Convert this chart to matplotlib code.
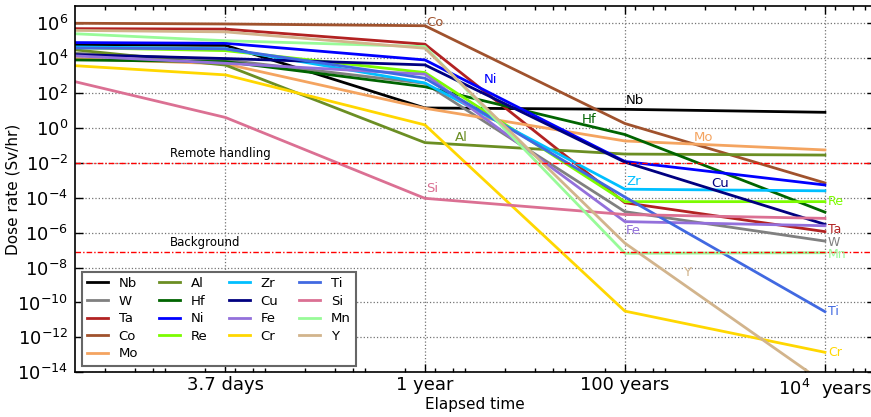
import matplotlib.pyplot as plt
from matplotlib.ticker import FixedLocator, LogLocator, NullLocator, NullFormatter

plt.rcParams['font.family'] = ['DejaVu Sans']
plt.rcParams['axes.unicode_minus'] = False

# cooling times in seconds
yr = 3.156e7
times = [1.0e4, 3.7 * 86400, yr, 100 * yr, 1.0e4 * yr]

# dose rate (Sv/hr) per material at each cooling time
Nb = [5.9e4, 5.4e4, 14.0, 11.7, 7.9]
W = [1.9e4, 7.9e3, 360.0, 1.6e-5, 3.3e-7]
Ta = [4.9e5, 4.6e5, 6.3e4, 5.2e-5, 1.15e-6]
Co = [1.0e6, 9.1e5, 7.2e5, 1.8, 7.1e-4]
Mo = [9.5e3, 4.7e3, 13.5, 0.18, 5.5e-2]
Al = [3.0e4, 4.0e3, 0.145, 3.2e-2, 2.8e-2]
Hf = [7.9e3, 6.3e3, 230.0, 0.42, 1.5e-5]
Ni = [7.8e4, 7.1e4, 7.9e3, 1.2e-2, 5.4e-4]
Re = [4.0e4, 2.7e4, 1.5e3, 6.0e-5, 6.0e-5]
Zr = [4.4e4, 3.5e4, 380.0, 3.1e-4, 2.5e-4]
Cu = [1.6e4, 9.5e3, 4.1e3, 1.1e-2, 3.0e-6]
Fe = [1.35e4, 5.1e3, 1.2e3, 4.3e-6, 2.5e-6]
Cr = [3.7e3, 1.1e3, 1.5, 3.2e-11, 1.4e-13]
Ti = [3.8e4, 3.4e4, 710.0, 1.1e-4, 3.0e-11]
Si = [450.0, 4.0, 9.3e-5, 1.1e-5, 6.6e-6]
Mn = [2.5e5, 1.0e5, 4.6e4, 6.6e-8, 7.1e-8]
Y = [3.9e5, 3.2e5, 3.7e4, 2.5e-7, 2.3e-15]

remote_handling = 1.0e-2
background = 8.0e-8

tick_times = [3.7 * 86400, yr, 100 * yr, 1.0e4 * yr]
tick_labels = ['3.7 days', '1 year', '100 years', r'$10^4$  years']

series = [
    ('Nb', Nb, 'black'), ('W', W, 'gray'), ('Ta', Ta, 'firebrick'),
    ('Co', Co, 'sienna'), ('Mo', Mo, 'sandybrown'), ('Al', Al, 'olivedrab'),
    ('Hf', Hf, 'darkgreen'), ('Ni', Ni, 'blue'), ('Re', Re, 'lawngreen'),
    ('Zr', Zr, 'deepskyblue'), ('Cu', Cu, 'navy'), ('Fe', Fe, 'mediumpurple'),
    ('Cr', Cr, 'gold'), ('Ti', Ti, 'royalblue'), ('Si', Si, 'palevioletred'),
    ('Mn', Mn, 'palegreen'), ('Y', Y, 'tan'),
]

# labels written at the right end of the line, with a small vertical nudge
end_labels = {'Re': 1.0, 'Ta': 1.25, 'W': 0.8, 'Mn': 0.8, 'Ti': 1.0, 'Cr': 1.0}
# labels written somewhere along the line (time, dose)
inline_labels = {
    'Co': (10**7.51, 10**6.07), 'Ni': (10**8.09, 10**2.75),
    'Nb': (10**9.51, 10**1.55), 'Hf': (10**9.07, 10**0.46),
    'Mo': (10**10.19, 10**-0.52), 'Al': (10**7.80, 10**-0.57),
    'Si': (10**7.51, 10**-3.44), 'Zr': (10**9.51, 10**-3.04),
    'Cu': (10**10.36, 10**-3.21), 'Fe': (10**9.51, 10**-5.9),
    'Y': (10**10.08, 10**-8.31),
}

fig = plt.figure(figsize=(8.71, 4.17), dpi=100)
ax = fig.add_axes([75 / 871, 1 - 372.3 / 417, 800 / 871, 366.5 / 417])

for name, vals, col in series:
    ax.plot(times, vals, color=col, lw=2, label=name)
    if name in end_labels:
        ax.text(times[-1] * 1.07, vals[-1] * end_labels[name], name, color=col,
                fontsize=9, ha='left', va='center')
    elif name in inline_labels:
        tx, ty = inline_labels[name]
        ax.text(tx, ty, name, color=col, fontsize=9.5, ha='left', va='center')

ax.axhline(remote_handling, color='red', lw=1, ls=(0, (4, 1.5, 1, 1.5)))
ax.axhline(background, color='red', lw=1, ls=(0, (4, 1.5, 1, 1.5)))
ax.text(8.9e4, remote_handling * 1.4, 'Remote handling', fontsize=8.5, va='bottom')
ax.text(8.9e4, background * 1.4, 'Background', fontsize=8.5, va='bottom')

ax.set_xscale('log')
ax.set_yscale('log')
ax.set_xlim(1e4, 1e12)
ax.set_ylim(1e-14, 1e7)

ax.xaxis.set_major_locator(FixedLocator(tick_times))
ax.set_xticklabels(tick_labels)
ax.xaxis.set_minor_locator(LogLocator(base=10, subs=(2, 4, 6, 8), numticks=30))
ax.xaxis.set_minor_formatter(NullFormatter())
ax.yaxis.set_major_locator(FixedLocator([10.0**k for k in range(-14, 7, 2)]))
ax.yaxis.set_minor_locator(NullLocator())

ax.tick_params(which='both', direction='in', top=True, right=True)
ax.tick_params(which='major', length=6, width=1, labelsize=13)
ax.tick_params(axis='x', which='major', pad=3)
ax.tick_params(axis='y', which='major', pad=5)
ax.tick_params(which='minor', length=3, width=1)
ax.grid(True, which='major', ls=':', color='0.45', lw=0.9)
for sp in ax.spines.values():
    sp.set_linewidth(1.2)

ax.set_xlabel('Elapsed time', fontsize=11)
ax.set_ylabel('Dose rate (Sv/hr)', fontsize=11)
ax.xaxis.set_label_coords(0.5, -0.089, transform=ax.transAxes)
ax.xaxis.label.set_va('center')
ax.yaxis.set_label_coords(-0.077, 0.5, transform=ax.transAxes)
ax.yaxis.label.set_va('center')

leg = ax.legend(loc='lower left', ncol=4, fontsize=9.5, fancybox=False,
                handlelength=1.6, borderaxespad=0.5, columnspacing=1.6,
                labelspacing=0.35, framealpha=1)
leg.get_frame().set_edgecolor('0.4')
leg.get_frame().set_linewidth(1.5)

fig.savefig('out.png', dpi=100)
